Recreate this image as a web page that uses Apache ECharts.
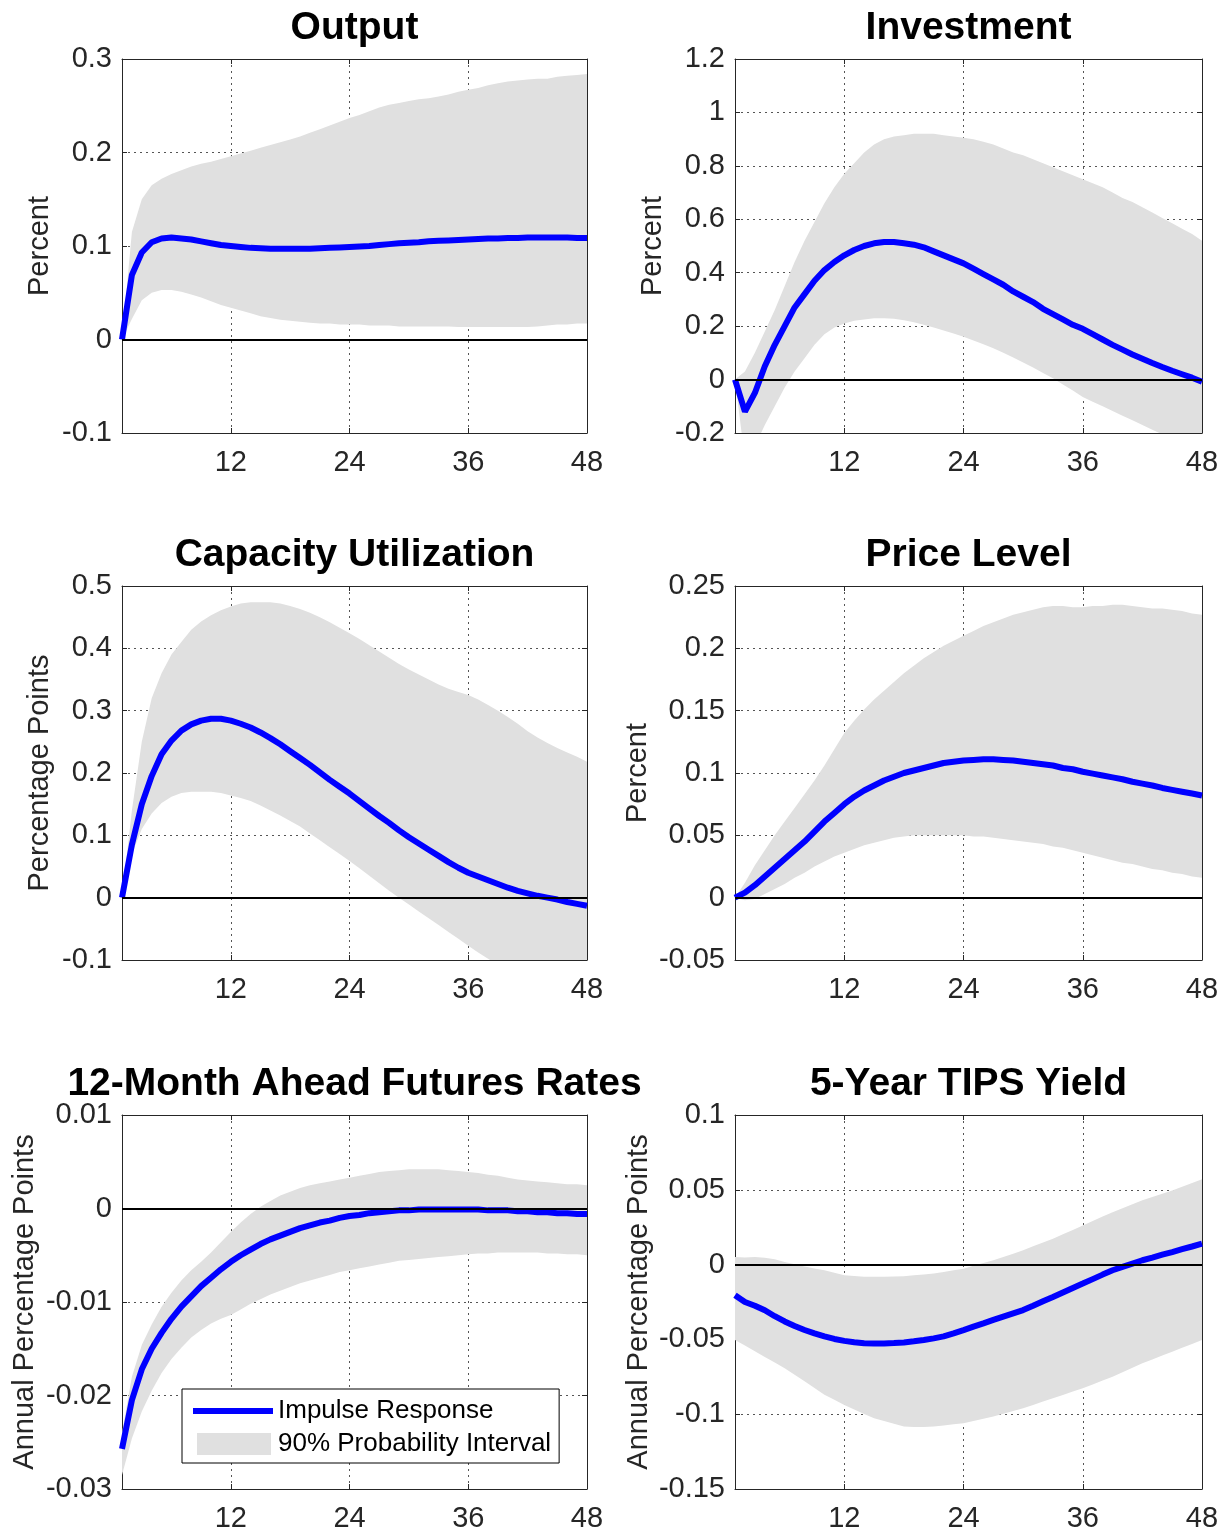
<!DOCTYPE html>
<html>
<head>
<meta charset="utf-8">
<script src="https://cdn.jsdelivr.net/npm/echarts@6.0.0/dist/echarts.min.js"></script>
<style>
  html, body { margin: 0; padding: 0; background: #fff; }
  #chart { width: 1229px; height: 1533px; }
</style>
</head>
<body>
<div id="chart"></div>
<script>
// horizon in months
var months = [1,2,3,4,5,6,7,8,9,10,11,12,13,14,15,16,17,18,19,20,21,22,23,24,
  25,26,27,28,29,30,31,32,33,34,35,36,37,38,39,40,41,42,43,44,45,46,47,48];
var xTicks = [12, 24, 36, 48];

// Output
var outputIrf = [0,0.069,0.093,0.104,0.108,0.109,0.108,0.107,0.105,0.103,0.101,0.1,
  0.099,0.098,0.0975,0.097,0.097,0.097,0.097,0.097,0.0975,0.098,0.0985,0.099,
  0.0995,0.1,0.101,0.102,0.103,0.1035,0.104,0.105,0.1055,0.106,0.1065,0.107,
  0.1075,0.108,0.108,0.1085,0.1085,0.109,0.109,0.109,0.109,0.109,0.1085,0.1085];
var outputHi = [0,0.115,0.15,0.165,0.172,0.177,0.181,0.185,0.188,0.19,0.193,0.196,
  0.199,0.202,0.205,0.208,0.211,0.214,0.217,0.221,0.225,0.229,0.233,0.237,
  0.24,0.244,0.248,0.251,0.253,0.255,0.257,0.258,0.26,0.262,0.265,0.267,
  0.269,0.272,0.274,0.276,0.277,0.278,0.279,0.279,0.281,0.282,0.283,0.284];
var outputLo = [0,0.022,0.042,0.05,0.053,0.053,0.051,0.048,0.045,0.041,0.037,0.034,
  0.031,0.028,0.025,0.023,0.021,0.02,0.019,0.018,0.017,0.017,0.016,0.016,
  0.016,0.015,0.015,0.015,0.014,0.014,0.014,0.014,0.014,0.014,0.0135,0.0135,
  0.0135,0.0135,0.0135,0.0135,0.0135,0.0135,0.014,0.015,0.016,0.016,0.017,0.017];

// Investment
var investIrf = [0,-0.12,-0.05,0.05,0.13,0.2,0.27,0.32,0.37,0.41,0.44,0.465,
  0.485,0.5,0.51,0.515,0.515,0.51,0.505,0.495,0.48,0.465,0.45,0.435,
  0.415,0.395,0.375,0.355,0.33,0.31,0.29,0.265,0.245,0.225,0.205,0.19,
  0.17,0.15,0.13,0.112,0.094,0.078,0.062,0.047,0.033,0.02,0.007,-0.008];
var investHi = [0,0.03,0.1,0.18,0.26,0.35,0.44,0.52,0.59,0.66,0.72,0.77,
  0.81,0.85,0.88,0.9,0.91,0.915,0.92,0.92,0.92,0.915,0.91,0.905,
  0.9,0.89,0.88,0.865,0.85,0.84,0.825,0.81,0.795,0.78,0.765,0.75,
  0.735,0.72,0.7,0.68,0.665,0.645,0.625,0.605,0.585,0.565,0.545,0.52];
var investLo = [0,-0.3,-0.25,-0.17,-0.1,-0.03,0.03,0.08,0.13,0.17,0.195,0.21,
  0.22,0.225,0.23,0.23,0.228,0.222,0.215,0.205,0.195,0.184,0.172,0.16,
  0.146,0.132,0.117,0.1,0.083,0.064,0.045,0.025,0.005,-0.018,-0.041,-0.065,
  -0.083,-0.1,-0.118,-0.135,-0.152,-0.17,-0.188,-0.205,-0.222,-0.24,-0.26,-0.28];

// Capacity utilization
var capuIrf = [0,0.085,0.15,0.195,0.23,0.252,0.268,0.278,0.284,0.287,0.287,0.284,
  0.279,0.273,0.265,0.256,0.246,0.235,0.224,0.213,0.201,0.189,0.178,0.167,
  0.155,0.143,0.131,0.12,0.108,0.097,0.087,0.077,0.067,0.057,0.048,0.04,
  0.034,0.028,0.022,0.016,0.011,0.007,0.003,0,-0.003,-0.007,-0.01,-0.013];
var capuHi = [0,0.14,0.25,0.32,0.36,0.39,0.41,0.43,0.443,0.453,0.461,0.467,
  0.472,0.474,0.474,0.474,0.472,0.468,0.463,0.457,0.45,0.442,0.433,0.424,
  0.415,0.405,0.395,0.385,0.375,0.366,0.358,0.35,0.342,0.335,0.33,0.325,
  0.318,0.309,0.3,0.29,0.279,0.267,0.257,0.248,0.24,0.233,0.226,0.218];
var capuLo = [0,0.07,0.11,0.135,0.152,0.162,0.168,0.17,0.17,0.17,0.168,0.164,
  0.16,0.155,0.148,0.14,0.132,0.123,0.114,0.103,0.092,0.081,0.07,0.059,
  0.047,0.035,0.023,0.011,0,-0.011,-0.022,-0.033,-0.044,-0.055,-0.066,-0.077,
  -0.088,-0.098,-0.108,-0.116,-0.123,-0.13,-0.135,-0.14,-0.145,-0.15,-0.155,-0.16];

// Price level
var priceIrf = [0,0.004,0.01,0.017,0.024,0.031,0.038,0.045,0.053,0.061,0.068,0.075,
  0.081,0.086,0.09,0.094,0.097,0.1,0.102,0.104,0.106,0.108,0.109,0.11,
  0.1105,0.111,0.111,0.1105,0.11,0.109,0.108,0.107,0.106,0.104,0.103,0.101,
  0.0995,0.098,0.0965,0.095,0.093,0.0915,0.09,0.088,0.0865,0.085,0.0835,0.082];
var priceHi = [0,0.012,0.026,0.038,0.05,0.061,0.072,0.083,0.094,0.106,0.119,0.132,
  0.142,0.151,0.159,0.166,0.173,0.18,0.186,0.192,0.197,0.202,0.206,0.21,
  0.214,0.218,0.221,0.224,0.227,0.229,0.231,0.233,0.234,0.234,0.233,0.233,
  0.234,0.234,0.235,0.235,0.234,0.233,0.232,0.232,0.231,0.23,0.228,0.227];
var priceLo = [0,-0.002,-0.001,0.003,0.007,0.011,0.016,0.02,0.025,0.029,0.033,0.036,
  0.039,0.042,0.044,0.046,0.048,0.049,0.05,0.05,0.05,0.05,0.05,0.05,
  0.049,0.049,0.048,0.047,0.046,0.045,0.044,0.043,0.041,0.04,0.038,0.036,
  0.034,0.032,0.03,0.028,0.027,0.025,0.023,0.022,0.02,0.019,0.017,0.016];

// 12-month ahead futures rates
var futIrf = [-0.0257,-0.0205,-0.0172,-0.015,-0.0133,-0.0118,-0.0105,-0.0094,-0.0083,-0.0074,-0.0065,-0.0057,
  -0.005,-0.0044,-0.0038,-0.0033,-0.0029,-0.0025,-0.0021,-0.0018,-0.0015,-0.0013,-0.001,-0.0008,
  -0.0007,-0.0005,-0.0004,-0.0003,-0.0002,-0.0002,-0.0001,-0.0001,-0.0001,-0.0001,-0.0001,-0.0001,
  -0.0001,-0.0002,-0.0002,-0.0002,-0.0003,-0.0003,-0.0004,-0.0004,-0.0005,-0.0005,-0.0006,-0.0006];
var futHi = [-0.024,-0.018,-0.0146,-0.0124,-0.0105,-0.009,-0.0077,-0.0066,-0.0057,-0.0047,-0.0036,-0.0025,
  -0.0015,-0.0006,0.0002,0.0008,0.0014,0.0018,0.0022,0.0025,0.0027,0.0029,0.0031,0.0033,
  0.0035,0.0037,0.0039,0.004,0.0041,0.0042,0.0042,0.0042,0.0042,0.0041,0.004,0.0039,
  0.0038,0.0036,0.0035,0.0033,0.0031,0.003,0.0029,0.0028,0.0027,0.0026,0.0026,0.0025];
var futLo = [-0.0285,-0.0246,-0.0217,-0.0195,-0.0176,-0.0161,-0.0149,-0.0138,-0.013,-0.0123,-0.0118,-0.0114,
  -0.0108,-0.0102,-0.0097,-0.0092,-0.0088,-0.0084,-0.008,-0.0077,-0.0074,-0.0071,-0.0068,-0.0066,
  -0.0064,-0.0062,-0.006,-0.0058,-0.0056,-0.0055,-0.0054,-0.0053,-0.0052,-0.0051,-0.005,-0.0049,
  -0.0048,-0.0048,-0.0047,-0.0047,-0.0047,-0.0047,-0.0047,-0.0048,-0.0048,-0.0049,-0.0049,-0.005];

// 5-year TIPS yield
var tipsIrf = [-0.0205,-0.025,-0.0275,-0.0305,-0.0345,-0.038,-0.041,-0.0437,-0.046,-0.048,-0.0497,-0.051,
  -0.0519,-0.0525,-0.0527,-0.0527,-0.0524,-0.052,-0.0513,-0.0504,-0.0493,-0.048,-0.046,-0.0438,
  -0.0415,-0.0393,-0.037,-0.0348,-0.0326,-0.0304,-0.0275,-0.0245,-0.0216,-0.0186,-0.0156,-0.0127,
  -0.0097,-0.0067,-0.0038,-0.0015,0.0007,0.0029,0.0047,0.0066,0.0084,0.0103,0.0121,0.014];
var tipsHi = [0.005,0.0048,0.005,0.0045,0.0035,0.0018,0.0003,-0.0012,-0.0026,-0.0038,-0.0055,-0.0071,
  -0.0077,-0.0082,-0.0082,-0.0081,-0.0079,-0.0078,-0.0072,-0.0066,-0.006,-0.0049,-0.0038,-0.0027,
  -0.0008,0.001,0.0029,0.0051,0.0073,0.0096,0.0122,0.0147,0.0173,0.0203,0.0232,0.0262,
  0.0291,0.0321,0.035,0.0377,0.0403,0.043,0.0452,0.0474,0.0496,0.0521,0.0545,0.057];
var tipsLo = [-0.0504,-0.054,-0.058,-0.0617,-0.0655,-0.0693,-0.0737,-0.078,-0.0825,-0.087,-0.0904,-0.0938,
  -0.0968,-0.0998,-0.1027,-0.1045,-0.1064,-0.1082,-0.1085,-0.1085,-0.1082,-0.1075,-0.1068,-0.106,
  -0.1045,-0.1031,-0.1016,-0.0997,-0.0979,-0.096,-0.0938,-0.0915,-0.0893,-0.0871,-0.0849,-0.0827,
  -0.0801,-0.0775,-0.0749,-0.072,-0.069,-0.066,-0.0634,-0.0608,-0.0582,-0.0556,-0.053,-0.0504];

var titles = ['Output', 'Investment', 'Capacity Utilization', 'Price Level',
  '12-Month Ahead Futures Rates', '5-Year TIPS Yield'];
var yNames = ['Percent', 'Percent', 'Percentage Points', 'Percent',
  'Annual Percentage Points', 'Annual Percentage Points'];
var yMin = [-0.1, -0.2, -0.1, -0.05, -0.03, -0.15];
var yMax = [0.3, 1.2, 0.5, 0.25, 0.01, 0.1];
var yStep = [0.1, 0.2, 0.1, 0.05, 0.01, 0.05];
var yNameGap = [68, 68, 68, 83, 83, 82];

var irfs = [outputIrf, investIrf, capuIrf, priceIrf, futIrf, tipsIrf];
var his = [outputHi, investHi, capuHi, priceHi, futHi, tipsHi];
var los = [outputLo, investLo, capuLo, priceLo, futLo, tipsLo];

var colLeft = [122, 735];
var colWidth = [465, 467];
var rowTop = [59, 586, 1115];
var plotH = 374;
var titleTop = [9, 536, 1065];

var font = '"Liberation Sans", Arial, Helvetica, sans-serif';
var axisColor = '#262626';
var bandColor = '#e0e0e0';

function pairs(ys) {
  return months.map(function (m, i) { return [m, ys[i]]; });
}
function fmt(v) {
  return String(Math.round(v * 10000) / 10000);
}

// grey 90% band: one polygon, upper edge then lower edge, placed by the axes
function bandRenderer(hi, lo) {
  return function (params, api) {
    var pts = [];
    for (var n = 0; n < months.length; n++) pts.push(api.coord([months[n], hi[n]]));
    for (var n2 = months.length - 1; n2 >= 0; n2--) pts.push(api.coord([months[n2], lo[n2]]));
    var cs = params.coordSys;
    return {
      type: 'polygon',
      shape: { points: pts },
      style: { fill: bandColor, stroke: null },
      clipPath: { type: 'rect', shape: { x: cs.x, y: cs.y, width: cs.width, height: cs.height } }
    };
  };
}

var grids = [], xAxes = [], yAxes = [], series = [], titleList = [];

for (var i = 0; i < 6; i++) {
  var col = i % 2, row = Math.floor(i / 2);
  grids.push({ left: colLeft[col], top: rowTop[row], width: colWidth[col], height: plotH });

  titleList.push({
    text: titles[i],
    left: colLeft[col] + colWidth[col] / 2,
    top: titleTop[row],
    textAlign: 'center',
    padding: 0,
    textStyle: { fontFamily: font, fontSize: 39, fontWeight: 'bold', color: '#000' }
  });

  xAxes.push({
    type: 'value', gridIndex: i, min: 1, max: 48,
    axisLine: { show: true, onZero: false, lineStyle: { color: axisColor, width: 1 } },
    axisTick: { show: true, inside: true, length: 5, customValues: xTicks, lineStyle: { color: axisColor } },
    axisLabel: { customValues: xTicks, margin: 15, fontFamily: font, fontSize: 29, color: axisColor },
    splitLine: { show: true, lineStyle: { color: '#555', type: [2, 4], width: 1 } }
  });
  yAxes.push({
    type: 'value', gridIndex: i, min: yMin[i], max: yMax[i], interval: yStep[i],
    name: yNames[i], nameLocation: 'middle', nameGap: yNameGap[i],
    nameTextStyle: { fontFamily: font, fontSize: 29, color: axisColor },
    axisLine: { show: true, onZero: false, lineStyle: { color: axisColor, width: 1 } },
    axisTick: { show: true, inside: true, length: 5, lineStyle: { color: axisColor } },
    axisLabel: { margin: 10, fontFamily: font, fontSize: 29, color: axisColor, formatter: fmt },
    splitLine: { show: true, lineStyle: { color: '#555', type: [2, 4], width: 1 } }
  });
}
// box: top and right axes with inward ticks
for (var j = 0; j < 6; j++) {
  xAxes.push({
    type: 'value', gridIndex: j, position: 'top', min: 1, max: 48,
    axisLine: { show: true, onZero: false, lineStyle: { color: axisColor, width: 1 } },
    axisTick: { show: true, inside: true, length: 5, customValues: xTicks, lineStyle: { color: axisColor } },
    axisLabel: { show: false }, splitLine: { show: false }
  });
  yAxes.push({
    type: 'value', gridIndex: j, position: 'right', min: yMin[j], max: yMax[j], interval: yStep[j],
    axisLine: { show: true, onZero: false, lineStyle: { color: axisColor, width: 1 } },
    axisTick: { show: true, inside: true, length: 5, lineStyle: { color: axisColor } },
    axisLabel: { show: false }, splitLine: { show: false }
  });
}

for (var k = 0; k < 6; k++) {
  series.push({
    name: '90% Probability Interval',
    type: 'custom', xAxisIndex: k, yAxisIndex: k,
    data: [[months[0], his[k][0]]],
    encode: { x: 0, y: 1 },
    renderItem: bandRenderer(his[k], los[k]),
    itemStyle: { color: bandColor },
    silent: true, z: 1,
    markLine: {
      silent: true, symbol: 'none', label: { show: false },
      lineStyle: { color: '#000', type: 'solid', width: 2 },
      data: [{ yAxis: 0 }], animation: false
    }
  });
  series.push({
    name: 'Impulse Response',
    type: 'line', xAxisIndex: k, yAxisIndex: k, data: pairs(irfs[k]),
    symbol: 'none', color: '#0000ff',
    lineStyle: { color: '#0000ff', width: 6 }, z: 3
  });
}

var chart = echarts.init(document.getElementById('chart'));
chart.setOption({
  animation: false,
  backgroundColor: '#fff',
  title: titleList,
  grid: grids,
  xAxis: xAxes,
  yAxis: yAxes,
  legend: {
    orient: 'vertical', left: 182, top: 1389,
    itemWidth: 80, itemHeight: 22, itemGap: 7,
    padding: [9, 8, 6, 11],
    borderColor: '#000', borderWidth: 1, backgroundColor: '#fff',
    textStyle: { fontFamily: font, fontSize: 26, color: '#000' },
    data: [
      { name: 'Impulse Response', icon: 'path://M0,0 M80,22 M0,8 L80,8 L80,14 L0,14 Z',
        itemStyle: { color: '#0000ff', borderWidth: 0 } },
      { name: '90% Probability Interval', icon: 'path://M0,0 M80,22 M4,0 L78,0 L78,22 L4,22 Z',
        itemStyle: { color: bandColor, borderWidth: 0 } }
    ],
    selectedMode: false
  },
  series: series
});
</script>
</body>
</html>
